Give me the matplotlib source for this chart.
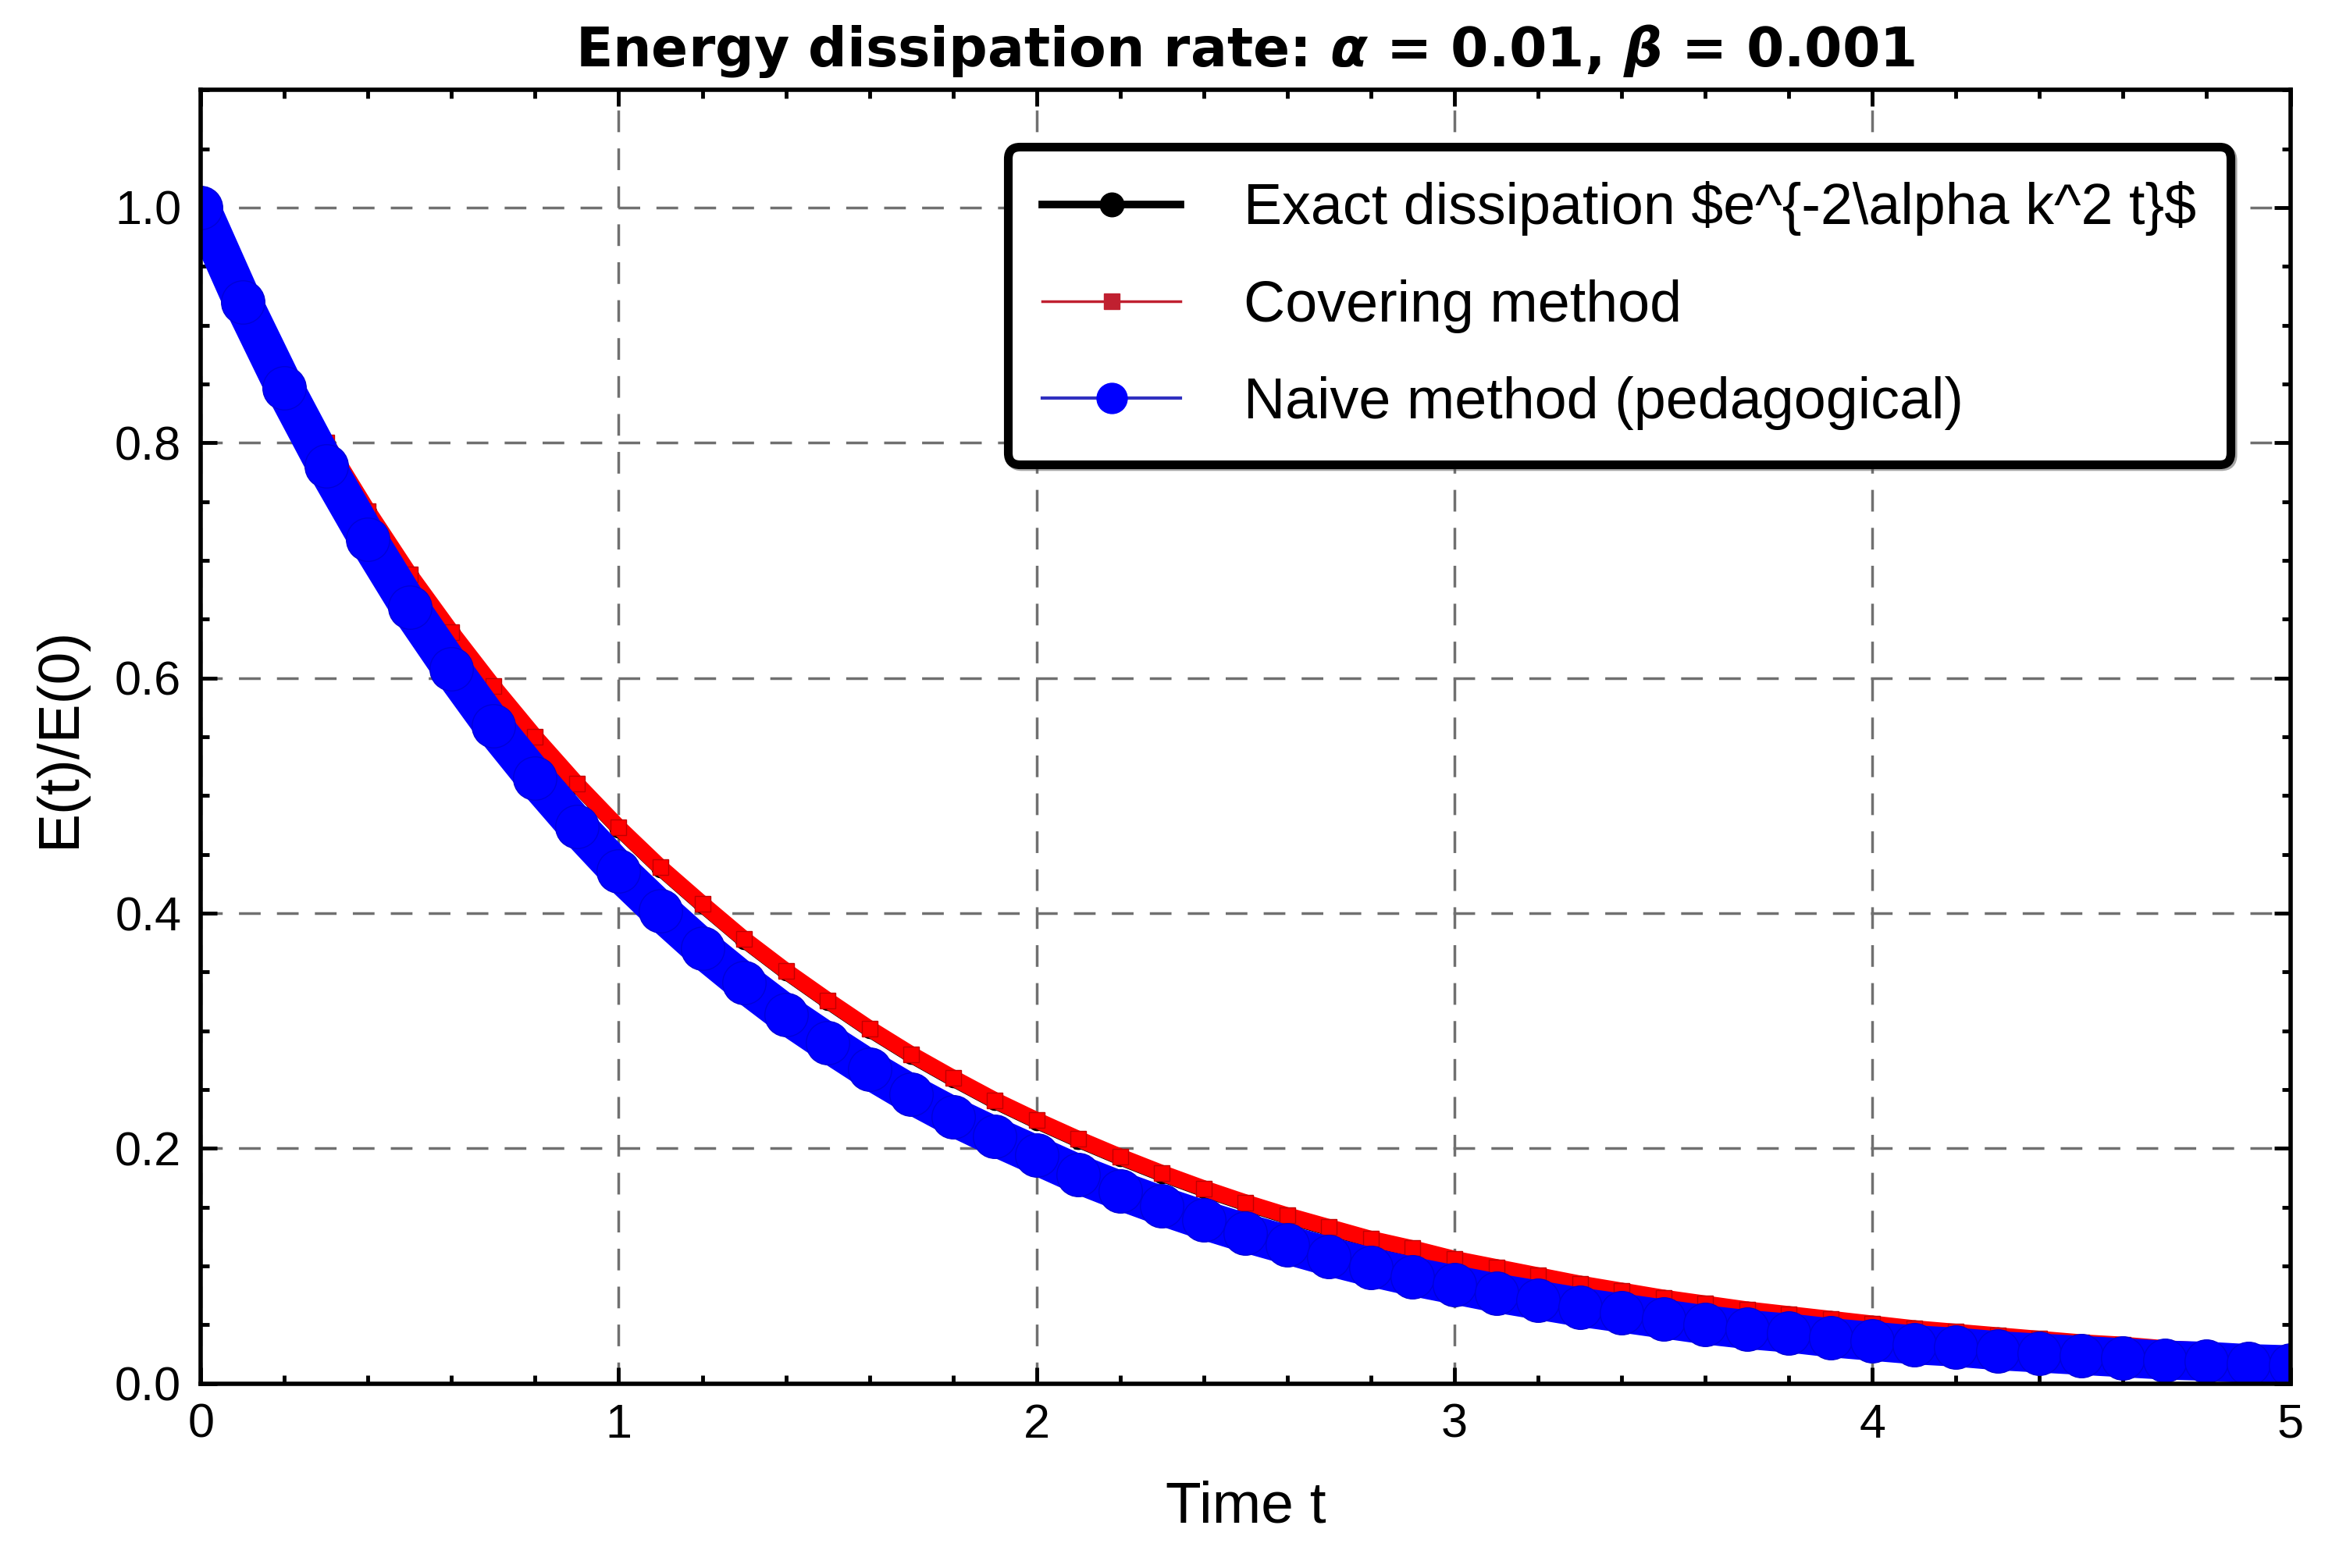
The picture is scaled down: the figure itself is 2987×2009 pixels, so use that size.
import numpy as np
import matplotlib.pyplot as plt
from matplotlib.ticker import MultipleLocator
from matplotlib.lines import Line2D

plt.rcParams['font.family'] = ['Liberation Sans', 'DejaVu Sans']
plt.rcParams['mathtext.fontset'] = 'custom'
plt.rcParams['mathtext.it'] = 'DejaVu Sans:bold:italic'
plt.rcParams['mathtext.rm'] = 'DejaVu Sans:bold'

# time grid (step 0.1) and values
t = np.round(np.arange(0, 51) * 0.1, 2)
exact = [1.000, 0.928, 0.861, 0.799, 0.741, 0.687, 0.638, 0.592, 0.549, 0.509,
         0.472, 0.438, 0.407, 0.377, 0.350, 0.325, 0.301, 0.279, 0.259, 0.240,
         0.223, 0.207, 0.192, 0.178, 0.165, 0.153, 0.142, 0.132, 0.122, 0.114,
         0.105, 0.098, 0.091, 0.084, 0.078, 0.072, 0.067, 0.062, 0.058, 0.054,
         0.050, 0.046, 0.043, 0.040, 0.037, 0.034, 0.032, 0.029, 0.027, 0.025,
         0.024]
covering = [1.000, 0.928, 0.862, 0.800, 0.742, 0.688, 0.639, 0.593, 0.550, 0.510,
            0.473, 0.439, 0.408, 0.378, 0.351, 0.326, 0.302, 0.280, 0.260, 0.241,
            0.224, 0.208, 0.193, 0.179, 0.166, 0.154, 0.143, 0.133, 0.123, 0.115,
            0.106, 0.099, 0.092, 0.085, 0.079, 0.073, 0.068, 0.063, 0.059, 0.055,
            0.051, 0.047, 0.044, 0.041, 0.038, 0.035, 0.033, 0.030, 0.028, 0.026,
            0.025]
naive = [1.000, 0.920, 0.847, 0.780, 0.718, 0.660, 0.608, 0.559, 0.515, 0.474,
         0.436, 0.402, 0.370, 0.341, 0.314, 0.290, 0.267, 0.246, 0.227, 0.210,
         0.194, 0.178, 0.164, 0.151, 0.139, 0.128, 0.118, 0.108, 0.099, 0.091,
         0.084, 0.077, 0.071, 0.065, 0.060, 0.055, 0.050, 0.046, 0.043, 0.039,
         0.036, 0.033, 0.031, 0.028, 0.026, 0.024, 0.022, 0.020, 0.019, 0.017,
         0.016]

labels = ["Exact dissipation \\$e^{-2\\alpha k^2 t}\\$",
          "Covering method",
          "Naive method (pedagogical)"]

fig = plt.figure(figsize=(29.87, 20.09), dpi=100)
ax = fig.add_axes([0.0861, 0.1176, 0.896, 0.825])

ax.plot(t, exact, color="black", lw=14, marker="o", ms=16, zorder=3,
        solid_capstyle="butt", label=labels[0])
ax.plot(t, covering, color="red", lw=15, marker="s", ms=15, mec="#c00000",
        mew=1, zorder=4, solid_capstyle="butt", label=labels[1])
ax.plot(t, naive, color="blue", lw=36, marker="o", ms=40, mec="#0000d8",
        mew=1, zorder=5, solid_capstyle="butt", label=labels[2])

ax.set_xlim(0, 5)
ax.set_ylim(0, 1.1)
ax.xaxis.set_major_locator(MultipleLocator(1))
ax.xaxis.set_minor_locator(MultipleLocator(0.2))
ax.yaxis.set_major_locator(MultipleLocator(0.2))
ax.yaxis.set_minor_locator(MultipleLocator(0.05))
ax.yaxis.set_major_formatter(plt.FormatStrFormatter("%.1f"))
ax.tick_params(which="both", direction="in", top=True, right=True, width=3.5)
ax.tick_params(which="major", length=15, labelsize=44, pad=18)
ax.tick_params(which="minor", length=8)
for s in ax.spines.values():
    s.set_linewidth(4)
    s.set_zorder(6)

ax.grid(True, which="major", color="#707070", lw=2.5, ls=(0, (8, 6)))

ax.set_xlabel("Time t", fontsize=54, labelpad=30)
ax.set_ylabel("E(t)/E(0)", fontsize=54, labelpad=26)
ax.set_title("Energy dissipation rate: $\\alpha$ = 0.01, $\\beta$ = 0.001",
             fontsize=50, fontweight="bold", family="DejaVu Sans", pad=22)

# legend handles are thinner than the plotted bands
handles = [Line2D([], [], color="black", lw=7, marker="o", ms=22),
           Line2D([], [], color="#c02030", lw=2.5, marker="s", ms=14),
           Line2D([], [], color="#3030c0", lw=3, marker="o", ms=28, mfc="blue", mec="blue")]
leg = ax.legend(handles, labels, loc="upper right", bbox_to_anchor=(0.9715, 0.956),
                borderaxespad=0, fontsize=53, fancybox=True, shadow=True,
                framealpha=1, handlelength=2.4, labelspacing=0.75,
                borderpad=0.6, handletextpad=1.1)
leg.get_frame().set_edgecolor("black")
leg.get_frame().set_linewidth(8)
leg.set_zorder(10)

fig.savefig("out.png", dpi=100)
